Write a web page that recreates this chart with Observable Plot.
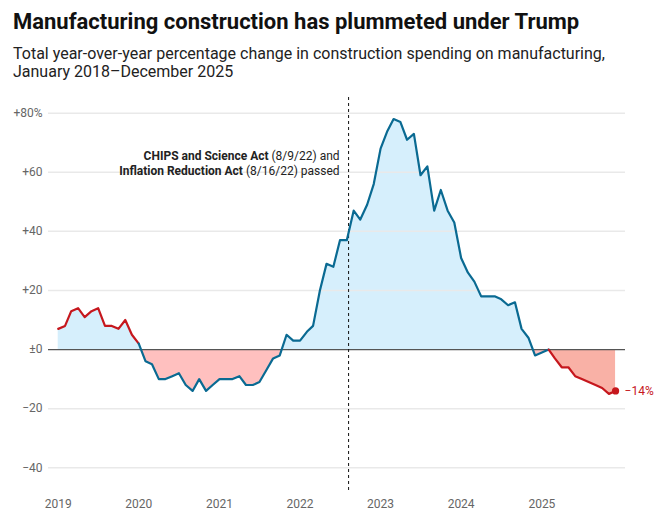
<!DOCTYPE html>
<html>
<head>
<meta charset="utf-8">
<script src="https://cdn.jsdelivr.net/npm/d3@7"></script>
<script src="https://cdn.jsdelivr.net/npm/@observablehq/plot@0.6"></script>
<style>
  html, body { margin: 0; padding: 0; background: #fff; }
  body { width: 672px; font-family: Roboto, "Noto Sans", sans-serif; }
  .title { font-weight: 700; font-size: 22px; line-height: 25px; color: #111; padding: 9px 0 0 13px; }
  .subtitle { font-size: 16px; line-height: 18px; color: #222; margin-top: 11px; padding-left: 13px; }
  #chart svg { display: block; }
</style>
</head>
<body>
<div class="title">Manufacturing construction has plummeted under Trump</div>
<div class="subtitle">Total year-over-year percentage change in construction spending on manufacturing,<br>January 2018–December 2025</div>
<div id="chart"></div>
<script>
// ---- data ----
const startMonth = "2019-01-01";
const values = [
  7, 8, 13, 14, 11, 13, 14, 8, 8, 7, 10, 5,            // 2019
  2, -4, -5, -10, -10, -9, -8, -12, -14, -10, -14, -12, // 2020
  -10, -10, -10, -9, -12, -12, -11, -7, -3, -2, 5, 3,  // 2021
  3, 6, 8, 20, 29, 28, 37, 37, 47, 44, 49, 56,         // 2022
  68, 74, 78, 77, 71, 73, 59, 62, 47, 54, 47, 43,      // 2023
  31, 26, 23, 18, 18, 18, 17, 15, 16, 7, 4, -2,        // 2024
  -1, 0, -3, -6, -6, -9, -10, -11, -12, -13, -15, -14  // 2025
];
const yearTicks = [2019, 2020, 2021, 2022, 2023, 2024, 2025];
const yTicks = [-40, -20, 0, 20, 40, 60, 80];
// segments of the line: [first month, last month, party]
const segments = [
  ["2019-01-01", "2020-01-01", "trump"],
  ["2020-01-01", "2025-02-01", "other"],
  ["2025-02-01", "2025-12-01", "trump"]
];
const actDate = "2022-08-09";
const annotation = [
  { bold: "CHIPS and Science Act", rest: " (8/9/22) and", y: 65.4 },
  { bold: "Inflation Reduction Act", rest: " (8/16/22) passed", y: 60.4 }
];

// ---- build table ----
const start = new Date(startMonth);
const rows = values.map((v, i) => ({ date: d3.utcMonth.offset(start, i), value: v }));
const inRange = (a, b) => rows.filter(r => r.date >= new Date(a) && r.date <= new Date(b));
const trumpNegRows = inRange(segments[2][0], segments[2][1]);
const otherNegRows = inRange(segments[0][0], segments[2][0]);
const last = rows[rows.length - 1];

const RED = "#c6171d", BLUE = "#0a6a92";
const fmtY = d => d === 0 ? "±0" : d > 0 ? "+" + d + (d === 80 ? "%" : "") : "−" + Math.abs(d);

const plot = Plot.plot({
  width: 672,
  height: 439,
  marginTop: 16,
  marginBottom: 30,
  marginLeft: 48,
  marginRight: 47,
  style: { fontFamily: "Roboto, sans-serif", fontSize: "12px", background: "#fff" },
  x: { type: "utc", domain: [new Date("2018-11-18"), new Date("2026-01-15")] },
  y: { domain: [-47.7, 85.3] },
  marks: [
    Plot.areaY(rows, { x: "date", y1: 0, y2: "value", fill: "#d6effc" }),
    Plot.areaY(otherNegRows, { x: "date", y1: 0, y2: "value", fill: "#ffc0bf" }),
    Plot.areaY(trumpNegRows, { x: "date", y1: 0, y2: "value", fill: "#f9b1a6" }),
    Plot.gridY(yTicks.filter(d => d !== 0), { stroke: "#e9e9e9", strokeOpacity: 1, strokeWidth: 1.5 }),
    Plot.ruleY([0], { stroke: "#555", strokeWidth: 1.2 }),
    Plot.ruleX([new Date(actDate)], { stroke: "#111", strokeWidth: 1, strokeDasharray: "3,3" }),
    ...segments.map(([a, b, p]) =>
      Plot.line(inRange(a, b), { x: "date", y: "value", stroke: p === "trump" ? RED : BLUE, strokeWidth: 2.2, strokeLinejoin: "round" })),
    Plot.dot([last], { x: "date", y: "value", r: 3.6, fill: RED, stroke: "none" }),
    Plot.text(annotation, { x: () => new Date(actDate), y: "y", text: d => d.bold + d.rest, textAnchor: "end", dx: -9, fill: "#222", fontSize: 12 }),
    Plot.text([last], { x: "date", y: "value", text: d => (d.value < 0 ? "−" : "+") + Math.abs(d.value) + "%", textAnchor: "start", dx: 9, fill: RED, fontSize: 12 }),
    Plot.axisY({ ticks: yTicks, tickFormat: fmtY, tickSize: 0, tickPadding: 6, fill: "#666", fontSize: 12 }),
    Plot.axisX({ ticks: yearTicks.map(y => new Date(Date.UTC(y, 0, 1))), tickFormat: d3.utcFormat("%Y"), tickSize: 0, tickPadding: 9, fill: "#666", fontSize: 12 })
  ]
});

// clip the areas at zero so positive/negative parts get their own fill
const ns = "http://www.w3.org/2000/svg";
const y0 = plot.scale("y").apply(0);
const defs = document.createElementNS(ns, "defs");
defs.innerHTML =
  `<clipPath id="clip-above"><rect x="0" y="0" width="672" height="${y0}"></rect></clipPath>` +
  `<clipPath id="clip-below"><rect x="0" y="${y0}" width="672" height="${439 - y0}"></rect></clipPath>`;
plot.insertBefore(defs, plot.firstChild);
const areas = plot.querySelectorAll('g[aria-label="area"]');
areas[0].setAttribute("clip-path", "url(#clip-above)");
areas[1].setAttribute("clip-path", "url(#clip-below)");
areas[2].setAttribute("clip-path", "url(#clip-below)");

// bold lead-in for annotation lines
const textGroups = plot.querySelectorAll('g[aria-label="text"]');
textGroups[0].querySelectorAll("text").forEach((t, i) => {
  const a = annotation[i];
  t.textContent = "";
  const b = document.createElementNS(ns, "tspan");
  b.setAttribute("font-weight", "700");
  b.textContent = a.bold;
  const r = document.createElementNS(ns, "tspan");
  r.textContent = a.rest;
  t.appendChild(b);
  t.appendChild(r);
});

document.getElementById("chart").appendChild(plot);
</script>
</body>
</html>
